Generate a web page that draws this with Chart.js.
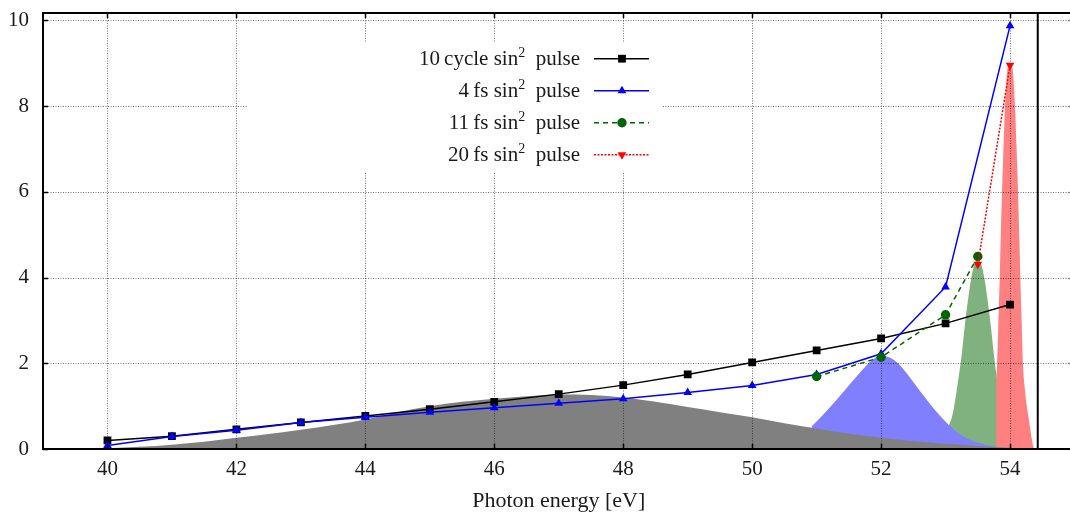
<!DOCTYPE html>
<html>
<head>
<meta charset="utf-8">
<script src="https://cdn.jsdelivr.net/npm/chart.js@4.4.1/dist/chart.umd.min.js"></script>
<style>
  html, body { margin: 0; padding: 0; background: #fff; overflow: hidden; }
  canvas { display: block; }
</style>
</head>
<body>
<canvas id="myChart" width="1080" height="515"></canvas>
<script>
// yields vs photon energy (eV)
const energies = [40, 41, 42, 43, 44, 45, 46, 47, 48, 49, 50, 51, 52, 53, 54];
const cycle10 = [0.2, 0.3, 0.46, 0.62, 0.77, 0.93, 1.1, 1.28, 1.49, 1.74, 2.02, 2.3, 2.58, 2.93, 3.37];
const fs4 = [0.08, 0.29, 0.44, 0.62, 0.74, 0.86, 0.96, 1.07, 1.17, 1.32, 1.48, 1.74, 2.22, 3.78, 9.87];
const fs11Energies = [51, 52, 53, 53.5];
const fs11 = [1.69, 2.14, 3.13, 4.49];
const fs20Energies = [53.5, 54];
const fs20 = [4.31, 8.95];

// pulse spectra (shaded areas)
const spec10Energies = [40, 40.5, 41, 41.5, 42, 42.5, 43, 43.5, 44, 44.5, 45, 45.5, 46, 46.5, 47, 47.5, 48, 48.5, 49, 49.5, 50, 50.5, 51, 51.5, 52, 52.5, 53, 53.5, 54, 54.4];
const spec10 = [0.02, 0.05, 0.1, 0.17, 0.26, 0.35, 0.45, 0.56, 0.69, 0.86, 1.0, 1.1, 1.17, 1.23, 1.27, 1.26, 1.2, 1.1, 0.98, 0.86, 0.74, 0.6, 0.48, 0.36, 0.26, 0.18, 0.12, 0.07, 0.03, 0.01];
const spec4Energies = [50.92, 51.1, 51.3, 51.5, 51.7, 51.85, 52.0, 52.15, 52.3, 52.45, 52.6, 52.75, 52.9, 53.05, 53.2, 53.35, 53.5, 53.75, 54.0];
const spec4 = [0.52, 0.8, 1.13, 1.48, 1.83, 2.06, 2.18, 2.12, 1.94, 1.66, 1.36, 1.07, 0.8, 0.56, 0.37, 0.24, 0.15, 0.06, 0.02];
const spec11Energies = [53.05, 53.1, 53.15, 53.2, 53.25, 53.3, 53.35, 53.4, 53.45, 53.5, 53.55, 53.6, 53.65, 53.7, 53.75, 53.8, 53.85, 53.9, 53.95, 54.0, 54.1, 54.2, 54.3];
const spec11 = [0.55, 0.75, 1.15, 1.65, 2.2, 2.9, 3.5, 4.0, 4.32, 4.42, 4.32, 4.0, 3.5, 2.9, 2.2, 1.6, 1.1, 0.75, 0.5, 0.32, 0.12, 0.04, 0.0];
const spec20Energies = [53.785, 53.8, 53.82, 53.84, 53.855, 53.876, 53.9, 53.923, 53.955, 53.97, 54.0, 54.03, 54.045, 54.077, 54.1, 54.124, 54.145, 54.16, 54.18, 54.2, 54.23, 54.26, 54.29, 54.32, 54.36, 54.38];
const spec20 = [1.7, 2.0, 3.0, 4.0, 4.9, 6.0, 7.1, 8.0, 8.8, 8.9, 8.95, 8.9, 8.8, 8.0, 7.1, 6.0, 4.9, 4.0, 3.0, 2.0, 1.4, 1.0, 0.72, 0.4, 0.06, 0.0];

// vertical marker line
const edgeEnergies = [54.43, 54.43];
const edgeLevels = [0, 10.17];

const xTicks = [40, 42, 44, 46, 48, 50, 52, 54];
const yTicks = [0, 2, 4, 6, 8, 10];

const keyLabels = ["10\u2009cycle", "4\u2009fs", "11\u2009fs", "20\u2009fs"];

const FONT = '"Liberation Serif", "Times New Roman", serif';
const TEXT = '#1a1a1a';

function pts(xs, ys) {
    return xs.map((v, i) => ({ x: v, y: ys[i] }));
}

function spectrum(xs, ys, color, order) {
    return {
        data: pts(xs, ys),
        spectrum: true,
        fill: 'origin',
        backgroundColor: color,
        borderWidth: 0,
        pointRadius: 0,
        cubicInterpolationMode: 'monotone',
        order: order
    };
}

function drawMarker(ctx, style, x, y, r, rotation, color) {
    ctx.fillStyle = color;
    ctx.beginPath();
    if (style === 'rect') {
        const s = r * Math.SQRT1_2;
        ctx.rect(x - s, y - s, 2 * s, 2 * s);
    } else if (style === 'triangle') {
        let rad = rotation * Math.PI / 180;
        ctx.moveTo(x + Math.sin(rad) * r, y - Math.cos(rad) * r);
        rad += 2 * Math.PI / 3;
        ctx.lineTo(x + Math.sin(rad) * r, y - Math.cos(rad) * r);
        rad += 2 * Math.PI / 3;
        ctx.lineTo(x + Math.sin(rad) * r, y - Math.cos(rad) * r);
        ctx.closePath();
    } else {
        ctx.arc(x, y, r, 0, Math.PI * 2);
    }
    ctx.fill();
}

function drawGrid(chart) {
    const { ctx, chartArea: a, scales: { x, y } } = chart;
    ctx.save();
    ctx.strokeStyle = 'rgba(0,0,0,0.55)';
    ctx.lineWidth = 1;
    ctx.setLineDash([1, 1.5]);
    xTicks.forEach(v => {
        const px = Math.round(x.getPixelForValue(v)) + 0.5;
        ctx.beginPath();
        ctx.moveTo(px, a.top);
        ctx.lineTo(px, a.bottom);
        ctx.stroke();
    });
    yTicks.forEach(v => {
        const py = Math.round(y.getPixelForValue(v)) + 0.5;
        ctx.beginPath();
        ctx.moveTo(a.left, py);
        ctx.lineTo(a.right, py);
        ctx.stroke();
    });
    ctx.restore();
}

function drawFrame(chart) {
    const { ctx, chartArea: a, scales: { x, y } } = chart;
    ctx.save();
    ctx.strokeStyle = '#000';
    ctx.lineWidth = 2;
    ctx.strokeRect(a.left, a.top, a.right - a.left, a.bottom - a.top);
    ctx.lineWidth = 1.5;
    ctx.beginPath();
    xTicks.forEach(v => {
        const px = Math.round(x.getPixelForValue(v)) + 0.5;
        ctx.moveTo(px, a.bottom);
        ctx.lineTo(px, a.bottom - 5);
        ctx.moveTo(px, a.top);
        ctx.lineTo(px, a.top + 5);
    });
    yTicks.forEach(v => {
        const py = Math.round(y.getPixelForValue(v)) + 0.5;
        ctx.moveTo(a.left, py);
        ctx.lineTo(a.left + 5, py);
        ctx.moveTo(a.right, py);
        ctx.lineTo(a.right - 5, py);
    });
    ctx.stroke();
    ctx.restore();
}

function drawKey(chart) {
    const ctx = chart.ctx;
    const lineSets = chart.data.datasets.filter(d => d.keyIndex !== undefined);
    ctx.save();
    ctx.fillStyle = '#fff';
    ctx.fillRect(247, 43, 415, 129);
    lineSets.forEach(ds => {
        const i = ds.keyIndex;
        const rowY = 58.7 + 32 * i;
        const base = rowY + 6.5;
        const mainFont = '21px ' + FONT;
        const supFont = '14px ' + FONT;
        const parts = [keyLabels[i] + ' sin', '2', '  pulse'];
        ctx.font = mainFont;
        const w0 = ctx.measureText(parts[0]).width;
        const w2 = ctx.measureText(parts[2]).width;
        ctx.font = supFont;
        const w1 = ctx.measureText(parts[1]).width;
        let tx = 580 - (w0 + w1 + w2);
        ctx.fillStyle = TEXT;
        ctx.textBaseline = 'alphabetic';
        ctx.textAlign = 'left';
        ctx.font = mainFont;
        ctx.fillText(parts[0], tx, base);
        tx += w0;
        ctx.font = supFont;
        ctx.fillText(parts[1], tx, base - 8.5);
        tx += w1;
        ctx.font = mainFont;
        ctx.fillText(parts[2], tx, base);

        ctx.strokeStyle = ds.borderColor;
        ctx.lineWidth = ds.borderWidth;
        ctx.setLineDash(ds.borderDash || []);
        ctx.beginPath();
        ctx.moveTo(594, rowY);
        ctx.lineTo(649, rowY);
        ctx.stroke();
        ctx.setLineDash([]);
        drawMarker(ctx, ds.pointStyle, 622, rowY, ds.pointRadius, ds.pointRotation || 0, ds.pointBackgroundColor);
    });
    ctx.restore();
}

const frameAndKey = {
    id: 'frameAndKey',
    beforeDatasetsDraw(chart) {
        chart.$gridDone = false;
    },
    beforeDatasetDraw(chart, args) {
        if (chart.$gridDone || chart.data.datasets[args.index].spectrum) return;
        drawGrid(chart);
        chart.$gridDone = true;
    },
    afterDatasetsDraw(chart) {
        drawKey(chart);
        drawFrame(chart);
    }
};

const ctx = document.getElementById("myChart").getContext("2d");

new Chart(ctx, {
    type: 'line',
    data: {
        datasets: [
            {
                data: pts(energies, cycle10),
                keyIndex: 0,
                borderColor: '#000000',
                borderWidth: 1.5,
                pointStyle: 'rect',
                pointRadius: 5.5,
                pointBorderWidth: 0,
                pointBackgroundColor: '#000000',
                order: 4
            },
            {
                data: pts(energies, fs4),
                keyIndex: 1,
                borderColor: '#0000ff',
                borderWidth: 1.5,
                pointStyle: 'triangle',
                pointRadius: 5,
                pointBorderWidth: 0,
                pointBackgroundColor: '#0000ff',
                order: 3
            },
            {
                data: pts(fs11Energies, fs11),
                keyIndex: 2,
                borderColor: '#006400',
                borderWidth: 1.5,
                borderDash: [5, 4],
                pointStyle: 'circle',
                pointRadius: 4.7,
                pointBorderWidth: 0,
                pointBackgroundColor: '#006400',
                order: 2
            },
            {
                data: pts(fs20Energies, fs20),
                keyIndex: 3,
                borderColor: '#ff0000',
                borderWidth: 1.5,
                borderDash: [2, 1.5],
                pointStyle: 'triangle',
                pointRotation: 180,
                pointRadius: 5,
                pointBorderWidth: 0,
                pointBackgroundColor: '#ff0000',
                order: 1
            },
            {
                data: pts(edgeEnergies, edgeLevels),
                borderColor: '#000000',
                borderWidth: 2,
                pointRadius: 0,
                order: 5
            },
            spectrum(spec10Energies, spec10, '#808080', 11),
            spectrum(spec20Energies, spec20, '#ff8080', 12),
            spectrum(spec4Energies, spec4, '#8080ff', 13),
            spectrum(spec11Energies, spec11, '#80b280', 14)
        ]
    },
    options: {
        responsive: false,
        animation: false,
        layout: { padding: { top: 13, right: 4, bottom: 0, left: 0 } },
        plugins: {
            legend: { display: false },
            tooltip: { enabled: false }
        },
        scales: {
            x: {
                type: 'linear',
                min: 39,
                max: 55,
                grid: { display: false, drawTicks: false },
                border: { display: false },
                afterBuildTicks: s => { s.ticks = xTicks.map(v => ({ value: v })); },
                afterFit: s => { s.height = 66; s.paddingLeft = 0; s.paddingRight = 0; },
                ticks: {
                    padding: 8,
                    color: TEXT,
                    font: { family: FONT, size: 21 },
                    maxRotation: 0
                },
                title: {
                    display: true,
                    text: 'Photon energy [eV]',
                    color: TEXT,
                    font: { family: FONT, size: 22 },
                    padding: { top: 0, bottom: 1 }
                }
            },
            y: {
                type: 'linear',
                min: 0,
                max: 10.17,
                grid: { display: false, drawTicks: false },
                border: { display: false },
                afterBuildTicks: s => { s.ticks = yTicks.map(v => ({ value: v })); },
                afterFit: s => { s.width = 43; s.paddingTop = 0; s.paddingBottom = 0; },
                ticks: {
                    padding: 14,
                    color: TEXT,
                    font: { family: FONT, size: 21 }
                }
            }
        }
    },
    plugins: [frameAndKey]
});
</script>
</body>
</html>
